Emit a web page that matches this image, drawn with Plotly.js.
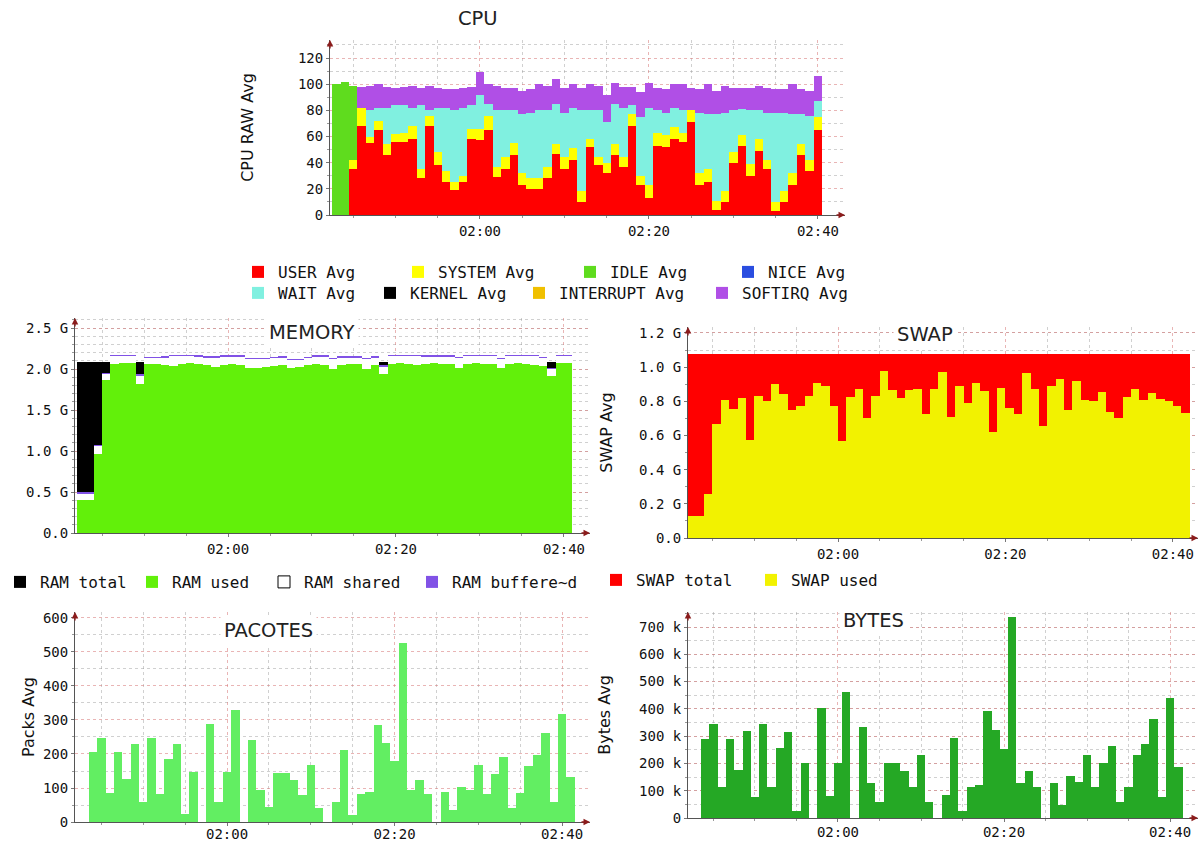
<!DOCTYPE html>
<html><head><meta charset="utf-8">
<script src="https://cdn.plot.ly/plotly-3.0.1.min.js"></script>
<style>html,body{margin:0;padding:0;background:#fff}#chart{width:1202px;height:843px}</style>
</head><body><div id="chart"></div>
<script>
// ---------------- DATA ----------------
const cpuStart = '01:42:30';
const cpuUser = [0,0,35,68,55,65,46,56,56,58, 28,68,38,25,19,25,58,57,65,29, 35,46,23,20,20,28,47,35,42,10, 52,38,32,46,37,68,23,13,53,52, 58,56,71,23,25,4,10,40,53,30, 49,35,3,10,23,46,34,65];
const cpuSystem = [0,0,7,14,5,7,8,6,7,10, 7,8,10,9,6,5,8,9,11,8, 9,9,9,8,8,9,7,9,9,8, 6,6,8,8,7,9,7,10,10,9, 9,7,9,9,10,7,8,8,8,9, 9,7,7,8,9,8,8,10];
const cpuIdle = [100,102,57,0,0,0,0,0,0,0, 0,0,0,0,0,0,0,0,0,0, 0,0,0,0,0,0,0,0,0,0, 0,0,0,0,0,0,0,0,0,0, 0,0,0,0,0,0,0,0,0,0, 0,0,0,0,0,0,0,0];
const cpuNice = [0,0,0,0,0,0,0,0,0,0, 0,0,0,0,0,0,0,0,0,0, 0,0,0,0,0,0,0,0,0,0, 0,0,0,0,0,0,0,0,0,0, 0,0,0,0,0,0,0,0,0,0, 0,0,0,0,0,0,0,0];
const cpuWait = [0,0,0,0,20,10,28,22,21,14, 49,4,34,48,55,52,18,26,9,43, 36,25,45,50,52,43,31,34,31,62, 22,36,31,31,38,7,45,59,17,17, 15,17,0,46,42,66,60,32,20,41, 22,36,68,60,45,23,34,12];
const cpuKernel = [0,0,0,0,0,0,0,0,0,0, 0,0,0,0,0,0,0,0,0,0, 0,0,0,0,0,0,0,0,0,0, 0,0,0,0,0,0,0,0,0,0, 0,0,0,0,0,0,0,0,0,0, 0,0,0,0,0,0,0,0];
const cpuInterrupt = [0,0,0,0,0,0,0,0,0,0, 0,0,0,0,0,0,0,0,0,0, 0,0,0,0,0,0,0,0,0,0, 0,0,0,0,0,0,0,0,0,0, 0,0,0,0,0,0,0,0,0,0, 0,0,0,0,0,0,0,0];
const cpuSoftirq = [0,0,0,16,19,18,16,13,14,17, 13,19,15,14,16,15,14,17,15,19, 17,17,18,18,20,19,19,19,18,17, 20,19,21,16,16,14,19,19,17,18, 18,20,17,18,23,18,21,17,16,17, 19,19,18,18,23,19,19,19];

const memStart = '01:42:00';
const memTotal = [2.09,2.09,2.09,2.09,2.09,2.09,2.09,2.09,2.09,2.09, 2.09,2.09,2.09,2.09,2.09,2.09,2.09,2.09,2.09,2.09, 2.09,2.09,2.09,2.09,2.09,2.09,2.09,2.09,2.09,2.09, 2.09,2.09,2.09,2.09,2.09,2.09,2.09,2.09,2.09,2.09, 2.09,2.09,2.09,2.09,2.09,2.09,2.09,2.09,2.09,2.09, 2.09,2.09,2.09,2.09,2.09,2.09,2.09,2.09,2.09];
const memUsed = [0.40,0.40,0.96,1.86,2.06,2.07,2.07,1.82,2.06,2.06, 2.05,2.04,2.06,2.07,2.06,2.05,2.03,2.05,2.06,2.05, 2.01,2.01,2.02,2.04,2.05,2.01,2.02,2.05,2.06,2.05, 2.00,2.05,2.06,2.06,2.00,2.05,1.94,2.06,2.07,2.06, 2.05,2.06,2.07,2.06,2.06,2.01,2.06,2.07,2.06,2.06, 2.01,2.06,2.07,2.06,2.05,2.04,1.92,2.07,2.07];
const memShared = [0.08,0.08,0.10,0.08,0.10,0.09,0.09,0.10,0.07,0.07, 0.09,0.12,0.10,0.09,0.09,0.09,0.11,0.10,0.09,0.10, 0.11,0.11,0.10,0.09,0.09,0.10,0.09,0.08,0.09,0.10, 0.12,0.09,0.08,0.08,0.12,0.09,0.09,0.10,0.09,0.10, 0.11,0.09,0.08,0.09,0.09,0.12,0.10,0.09,0.10,0.10, 0.11,0.10,0.09,0.10,0.11,0.09,0.08,0.09,0.09];
const memBuffered = [0.015,0.015,0.015,0.015,0.015,0.015,0.015,0.015,0.015,0.015, 0.015,0.015,0.015,0.015,0.015,0.015,0.015,0.015,0.015,0.015, 0.015,0.015,0.015,0.015,0.015,0.015,0.015,0.015,0.015,0.015, 0.015,0.015,0.015,0.015,0.015,0.015,0.015,0.015,0.015,0.015, 0.015,0.015,0.015,0.015,0.015,0.015,0.015,0.015,0.015,0.015, 0.015,0.015,0.015,0.015,0.015,0.015,0.015,0.015,0.015];
const memTickVals = [0, 0.5, 1.0, 1.5, 2.0, 2.5];
const memTickText = ['0.0', '0.5 G', '1.0 G', '1.5 G', '2.0 G', '2.5 G'];

const swapStart = '01:42:00';
const swapTotal = [1.075,1.075,1.075,1.075,1.075,1.075,1.075,1.075,1.075,1.075, 1.075,1.075,1.075,1.075,1.075,1.075,1.075,1.075,1.075,1.075, 1.075,1.075,1.075,1.075,1.075,1.075,1.075,1.075,1.075,1.075, 1.075,1.075,1.075,1.075,1.075,1.075,1.075,1.075,1.075,1.075, 1.075,1.075,1.075,1.075,1.075,1.075,1.075,1.075,1.075,1.075, 1.075,1.075,1.075,1.075,1.075,1.075,1.075,1.075,1.075,1.075];
const swapUsed = [0.127,0.127,0.26,0.67,0.81,0.755,0.82,0.575,0.83,0.80, 0.90,0.84,0.75,0.77,0.83,0.91,0.89,0.77,0.57,0.825, 0.87,0.70,0.83,0.975,0.865,0.82,0.865,0.875,0.725,0.87, 0.97,0.71,0.89,0.79,0.91,0.86,0.62,0.88,0.76,0.725, 0.965,0.87,0.655,0.89,0.93,0.75,0.92,0.805,0.80,0.855, 0.74,0.705,0.825,0.875,0.805,0.85,0.815,0.80,0.77,0.73];
const swapTickVals = [0, 0.2, 0.4, 0.6, 0.8, 1.0, 1.2];
const swapTickText = ['0.0', '0.2 G', '0.4 G', '0.6 G', '0.8 G', '1.0 G', '1.2 G'];

const packStart = '01:43:30';
const packets = [206,248,85,206,127,228,59,248,81,186, 228,23,147,0,287,59,147,328,0,242, 93,44,144,144,125,78,167,42,0,59, 211,20,83,88,284,232,179,526,93,125, 81,0,88,34,103,95,167,83,140,191, 42,85,164,196,262,59,319,132];

const bytesStart = '01:43:30';
const bytesK = [289,345,114,289,176,319,77,345,114,258, 317,26,203,0,403,82,203,461,0,332, 127,58,200,200,173,114,230,58,0,84, 295,26,114,120,394,321,252,735,129,173, 114,0,127,47,154,133,231,114,200,264, 59,114,231,271,362,77,439,188];
const bytesTickVals = [0, 100, 200, 300, 400, 500, 600, 700];
const bytesTickText = ['0', '100 k', '200 k', '300 k', '400 k', '500 k', '600 k', '700 k'];

// ---------------- HELPERS ----------------
const W = 1202, H = 843, MIN = 60000;
const px = v => v / W;
const py = v => 1 - v / H;
function t(hms) { const p = hms.split(':').map(Number); return Date.UTC(2024, 0, 1, p[0], p[1], p[2] || 0); }
function centers(start, n) { const t0 = t(start); return Array.from({length: n}, (_, i) => t0 + (i + 0.5) * MIN); }
const add = (a, b) => a.map((v, i) => v + b[i]);

const MONO = 'DejaVu Sans Mono';
const SANS = 'DejaVu Sans';
const majorGrid = 'rgba(215,120,120,0.55)';
const minorGrid = 'rgba(150,150,150,0.45)';

function timeAxis(d0, d1, r0, r1, anchor, extra) {
  return Object.assign({
    type: 'date', domain: [px(d0), px(d1)], range: [t(r0), t(r1)], anchor: anchor,
    tickformat: '%H:%M', tick0: t('02:00'), dtick: 20 * MIN,
    showline: true, linecolor: '#555', linewidth: 1,
    ticks: 'outside', ticklen: 3, tickcolor: '#777',
    showgrid: true, gridcolor: majorGrid, griddash: 'dot', gridwidth: 1,
    minor: {tick0: t('02:00'), dtick: 5 * MIN, showgrid: true, gridcolor: minorGrid, griddash: 'dot', ticks: 'outside', ticklen: 2, tickcolor: '#999'},
    zeroline: false, fixedrange: true,
    tickfont: {family: MONO, size: 14, color: '#111'}
  }, extra || {});
}
function valAxis(bottom, top, range, anchor, extra, minorDtick) {
  return Object.assign({
    domain: [py(bottom), py(top)], range: range, anchor: anchor,
    showline: true, linecolor: '#555', linewidth: 1,
    ticks: 'outside', ticklen: 3, tickcolor: '#777',
    showgrid: true, gridcolor: majorGrid, griddash: 'dot', gridwidth: 1,
    minor: {dtick: minorDtick, showgrid: true, gridcolor: minorGrid, griddash: 'dot', ticks: 'outside', ticklen: 2, tickcolor: '#999'},
    zeroline: false, fixedrange: true,
    tickfont: {family: MONO, size: 14, color: '#111'}
  }, extra);
}

// ---------------- TRACES ----------------
const traces = [];
const cpuX = centers(cpuStart, cpuUser.length);
const cpuSeries = [
  ['USER Avg', cpuUser, '#ff0000', 'legend', 115],
  ['SYSTEM Avg', cpuSystem, '#ffff00', 'legend', 127],
  ['IDLE Avg', cpuIdle, '#5fdc1e', 'legend', 113],
  ['NICE Avg', cpuNice, '#2a4de0', 'legend', 100],
  ['WAIT Avg', cpuWait, '#80f0e0', 'legend2', 87],
  ['KERNEL Avg', cpuKernel, '#000000', 'legend2', 104],
  ['INTERRUPT Avg', cpuInterrupt, '#f0c000', 'legend2', 138],
  ['SOFTIRQ Avg', cpuSoftirq, '#b04fe6', 'legend2', 100]
];
cpuSeries.forEach(s => traces.push({
  type: 'bar', name: s[0], x: cpuX, y: s[1], width: MIN,
  marker: {color: s[2], line: {width: 0}}, legend: s[3], legendwidth: s[4],
  xaxis: 'x', yaxis: 'y'
}));

const memX = centers(memStart, memUsed.length);
const zerosMem = memUsed.map(() => 0);
traces.push({type: 'bar', name: 'RAM total', x: memX, y: memTotal, base: zerosMem, width: MIN,
  marker: {color: '#000000', line: {width: 0}}, legend: 'legend3', legendwidth: 87, xaxis: 'x2', yaxis: 'y2'});
traces.push({type: 'bar', name: 'RAM used', x: memX, y: memUsed, base: zerosMem, width: MIN,
  marker: {color: '#62f00a', line: {width: 0}}, legend: 'legend3', legendwidth: 87, xaxis: 'x2', yaxis: 'y2'});
traces.push({type: 'bar', name: 'RAM shared', x: memX, y: memShared, base: memUsed, width: MIN, legendgroup: 'shared',
  showlegend: false, marker: {color: '#ffffff', line: {width: 0}}, xaxis: 'x2', yaxis: 'y2'});
traces.push({type: 'scatter', mode: 'markers', name: 'RAM shared', x: [null], y: [null], legendgroup: 'shared',
  marker: {symbol: 'square', size: 12, color: '#ffffff', line: {color: '#000', width: 1}},
  legend: 'legend3', legendwidth: 103, xaxis: 'x2', yaxis: 'y2'});
traces.push({type: 'bar', name: 'RAM buffere~d', x: memX, y: memBuffered, base: add(memUsed, memShared), width: MIN,
  marker: {color: '#8152e6', line: {width: 0}}, legend: 'legend3', xaxis: 'x2', yaxis: 'y2'});

const swapX = centers(swapStart, swapUsed.length);
const zerosSwap = swapUsed.map(() => 0);
traces.push({type: 'bar', name: 'SWAP total', x: swapX, y: swapTotal, base: zerosSwap, width: MIN,
  marker: {color: '#ff0000', line: {width: 0}}, legend: 'legend4', legendwidth: 110, xaxis: 'x3', yaxis: 'y3'});
traces.push({type: 'bar', name: 'SWAP used', x: swapX, y: swapUsed, base: zerosSwap, width: MIN,
  marker: {color: '#f2f200', line: {width: 0}}, legend: 'legend4', xaxis: 'x3', yaxis: 'y3'});

traces.push({type: 'bar', name: 'Packs Avg', x: centers(packStart, packets.length), y: packets, width: MIN,
  marker: {color: '#62ee62', line: {width: 0}}, showlegend: false, xaxis: 'x4', yaxis: 'y4'});
traces.push({type: 'bar', name: 'Bytes Avg', x: centers(bytesStart, bytesK.length), y: bytesK, width: MIN,
  marker: {color: '#25a825', line: {width: 0}}, showlegend: false, xaxis: 'x5', yaxis: 'y5'});

// ---------------- LAYOUT ----------------
const legendBase = {orientation: 'h', xanchor: 'left', yanchor: 'middle', traceorder: 'normal',
  bgcolor: 'rgba(0,0,0,0)', borderwidth: 0, font: {family: MONO, size: 16, color: '#111'}, itemclick: false, itemdoubleclick: false};

const titleFont = {family: SANS, size: 19.5, color: '#222'};
const yTitleFont = {family: SANS, size: 16, color: '#111'};

const annotations = [
  ['CPU', 478, 18], ['MEMORY', 312, 333], ['SWAP', 925, 335], ['PACOTES', 268, 630], ['BYTES', 873, 620]
].map(a => ({text: a[0], x: px(a[1]), y: py(a[2]), xref: 'paper', yref: 'paper', xanchor: 'center', yanchor: 'middle',
  showarrow: false, bgcolor: '#ffffff', borderpad: 3, font: titleFont}));

['', '2', '3', '4', '5'].forEach(k => {
  const xr = 'x' + k + ' domain', yr = 'y' + k + ' domain';
  annotations.push({xref: xr, yref: yr, x: 0, y: 1, ax: 0, ay: 10, text: '', showarrow: true,
    arrowhead: 2, arrowsize: 1, arrowwidth: 1.3, arrowcolor: '#8b1c1c', standoff: 0});
  annotations.push({xref: xr, yref: yr, x: 1, y: 0, ax: -10, ay: 0, text: '', showarrow: true,
    arrowhead: 2, arrowsize: 1, arrowwidth: 1.3, arrowcolor: '#8b1c1c', standoff: 0});
});

const layout = {
  width: W, height: H, margin: {l: 0, r: 0, t: 0, b: 0},
  paper_bgcolor: '#ffffff', plot_bgcolor: '#ffffff',
  barmode: 'stack', bargap: 0, showlegend: true,
  font: {family: MONO, size: 14, color: '#111'},
  xaxis: timeAxis(330, 845, '01:42:15', '02:43:12', 'y'),
  yaxis: valAxis(215, 40, [0, 133.8], 'x', {dtick: 20, title: {text: 'CPU RAW Avg', font: yTitleFont, standoff: 40}}, 10),
  xaxis2: timeAxis(75, 590, '01:41:47', '02:43:06', 'y2'),
  yaxis2: valAxis(533, 318, [0, 2.622], 'x2', {tickmode: 'array', tickvals: memTickVals, ticktext: memTickText}, 0.1),
  xaxis3: timeAxis(688, 1198, '01:42:05', '02:43:00', 'y3'),
  yaxis3: valAxis(538, 327, [0, 1.235], 'x3', {tickmode: 'array', tickvals: swapTickVals, ticktext: swapTickText,
    title: {text: 'SWAP Avg', font: yTitleFont, standoff: 22}}, 0.1),
  xaxis4: timeAxis(75, 590, '01:41:51', '02:43:20', 'y4', {ticklabelstandoff: -4}),
  yaxis4: valAxis(822, 612, [0, 617.6], 'x4', {dtick: 100, title: {text: 'Packs Avg', font: yTitleFont, standoff: 4}}, 50),
  xaxis5: timeAxis(688, 1198, '01:41:56', '02:43:22', 'y5', {ticklabelstandoff: -2}),
  yaxis5: valAxis(818, 612, [0, 755], 'x5', {tickmode: 'array', tickvals: bytesTickVals, ticktext: bytesTickText,
    title: {text: 'Bytes Avg', font: yTitleFont, standoff: 24}}, 50),
  legend: Object.assign({}, legendBase, {x: px(238), y: py(272)}),
  legend2: Object.assign({}, legendBase, {x: px(238), y: py(293)}),
  legend3: Object.assign({}, legendBase, {x: 0, y: py(582)}),
  legend4: Object.assign({}, legendBase, {x: px(596), y: py(580)}),
  annotations: annotations
};

Plotly.newPlot('chart', traces, layout, {displayModeBar: false, staticPlot: true});
</script>
</body></html>
